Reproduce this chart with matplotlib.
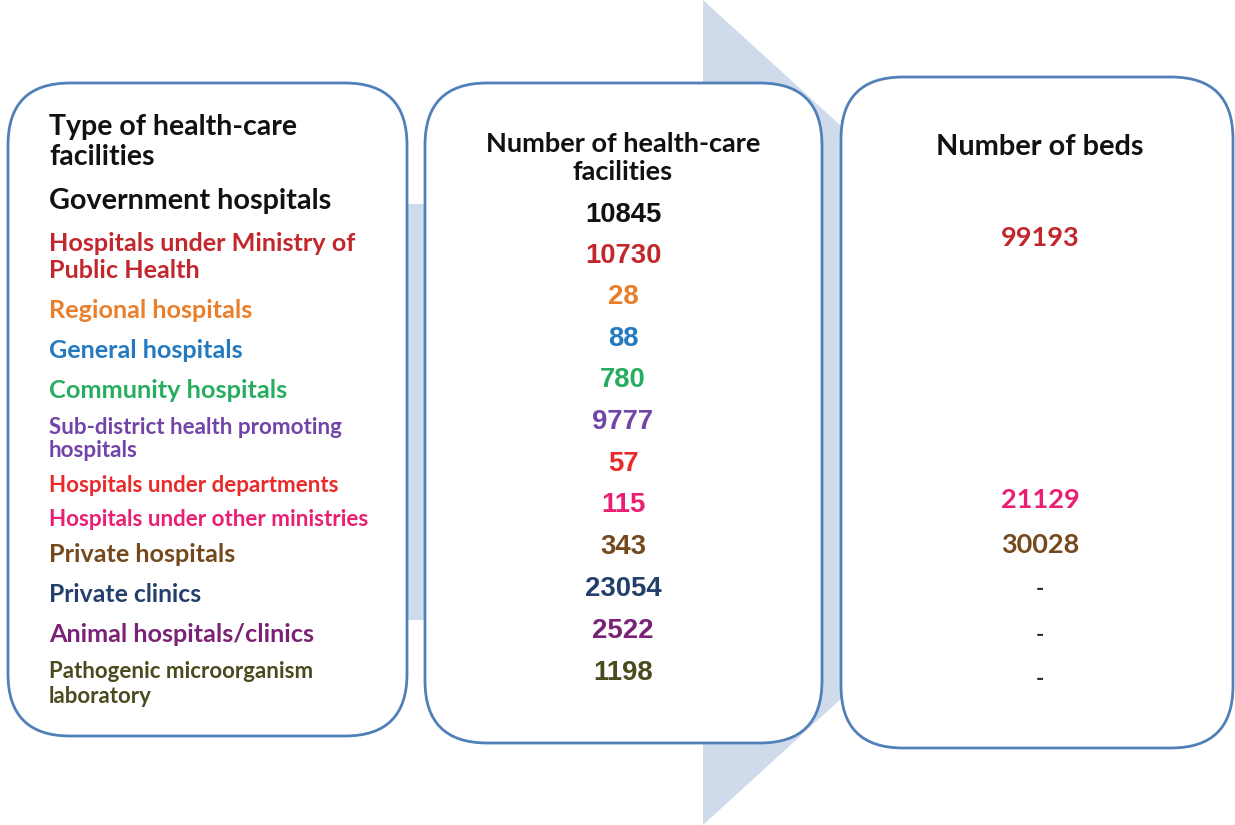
import matplotlib
matplotlib.use("Agg")
import matplotlib.pyplot as plt
from matplotlib.patches import FancyBboxPatch, Polygon

# ---------------- data ----------------
facility_types = [
    "Government hospitals",
    "Hospitals under Ministry of\nPublic Health",
    "Regional hospitals",
    "General hospitals",
    "Community hospitals",
    "Sub-district health promoting\nhospitals",
    "Hospitals under departments",
    "Hospitals under other ministries",
    "Private hospitals",
    "Private clinics",
    "Animal hospitals/clinics",
    "Pathogenic microorganism\nlaboratory",
]
num_facilities = [10845, 10730, 28, 88, 780, 9777, 57, 115, 343, 23054, 2522, 1198]
# None = blank cell, "-" = not applicable
num_beds = [None, 99193, None, None, None, None, None, 21129, 30028, "-", "-", "-"]
row_colors = ["#111111", "#c1272d", "#e97f2b", "#2479c1", "#27ad5f", "#7244a8",
              "#ea2a2a", "#ea1f73", "#74491c", "#233f6b", "#7a2276", "#4a4a1e"]

header_type = "Type of health-care\nfacilities"
header_fac = "Number of health-care\nfacilities"
header_beds = "Number of beds"

# ---------------- layout ----------------
W, H = 1235, 825
fig = plt.figure(figsize=(W / 100, H / 100), dpi=100)
ax = fig.add_axes([0, 0, 1, 1])
ax.set_xlim(0, W)
ax.set_ylim(H, 0)
ax.axis("off")

arrow_col = "#cfdbeb"
edge_col = "#5080b8"

# background arrow (shaft + head)
ax.add_patch(Polygon([(300, 204), (703, 204), (703, 0), (1155, 412),
                      (703, 825), (703, 620), (300, 620)],
                     closed=True, facecolor=arrow_col, edgecolor="none", zorder=1))

def box(x0, y0, x1, y1, r=62):
    ax.add_patch(FancyBboxPatch((x0 + r, y0 + r), (x1 - x0) - 2 * r, (y1 - y0) - 2 * r,
                                boxstyle=f"round,pad={r}", facecolor="white",
                                edgecolor=edge_col, linewidth=2.0, zorder=2))

box(8, 83, 407, 736)
box(425, 83, 822, 743)
box(841, 77, 1233, 748)

label_font = "Lato"
num_font = "Liberation Sans"

# left column
ax.text(49, 142, header_type, ha="left", va="center", fontsize=20.5, fontweight="bold",
        family=label_font, color="#111111", linespacing=1.22, zorder=3)

row_y_left = [201, 257, 311, 351, 390, 439, 486, 520, 555, 595, 634, 684]
row_fs_left = [20.7, 18.2, 18.2, 18.1, 18.3, 16.1, 16.1, 16.1, 18.1, 17.8, 18.2, 16.0]
row_ls_left = [1.2, 1.24, 1.2, 1.2, 1.2, 1.15, 1.2, 1.2, 1.2, 1.2, 1.2, 1.21]
for lab, y, fs, ls, c in zip(facility_types, row_y_left, row_fs_left, row_ls_left, row_colors):
    ax.text(49, y, lab, ha="left", va="center", fontsize=fs, fontweight="bold",
            family=label_font, color=c, linespacing=ls, zorder=3)

# middle column
ax.text(623, 158, header_fac, ha="center", va="center", fontsize=19.5, fontweight="bold",
        family=label_font, color="#111111", linespacing=1.2, zorder=3)
row_y_mid = [215, 256, 297, 339, 380, 422, 464, 505, 547, 589, 631, 673]
for v, y, c in zip(num_facilities, row_y_mid, row_colors):
    ax.text(623, y, f"{v}", ha="center", va="center", fontsize=19.8, fontweight="bold",
            family=num_font, color=c, zorder=3)

# right column
ax.text(1040, 147, header_beds, ha="center", va="center", fontsize=20.8, fontweight="bold",
        family=label_font, color="#111111", zorder=3)
row_y_right = [None, 238, None, None, None, None, None, 500, 545, 590, 635, 679]
for v, y, c in zip(num_beds, row_y_right, row_colors):
    if v is None:
        continue
    if v == "-":
        ax.text(1040, y, "-", ha="center", va="center", fontsize=16, fontweight="bold",
                family=label_font, color="#333333", zorder=3)
    else:
        ax.text(1040, y, f"{v}", ha="center", va="center", fontsize=19.5, fontweight="bold",
                family=label_font, color=c, zorder=3)

fig.savefig("out.png", dpi=100)
